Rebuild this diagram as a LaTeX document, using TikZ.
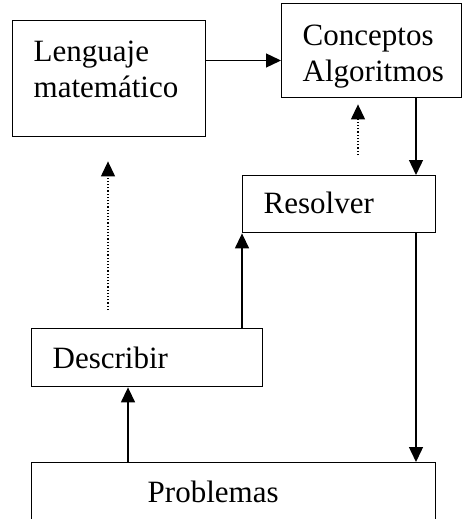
\documentclass[tikz,border=0pt]{standalone}
\usepackage{fontspec}
\setmainfont{Liberation Serif}
\usetikzlibrary{calc}
\usetikzlibrary{arrows.meta}

\tikzset{
    caja/.style={draw,line width=0.7pt,rectangle,anchor=north west,align=left,
        inner ysep=0pt,font=\fontsize{15.5}{17.75}\selectfont},
    flecha/.style={line width=0.7pt,-{Triangle[length=7.5pt,width=7pt]}},
    punteada/.style={line width=0.6pt,densely dotted,-{Triangle[length=7.5pt,width=7pt]}}
}

\begin{document}
\begin{tikzpicture}[x=0.5pt,y=-0.5pt]%
        \useasboundingbox (0,0) rectangle (462,519);
        % cajas
        \node[caja,inner xsep=10.5pt,text width=75.5pt,text height=20.5pt,text depth=37.5pt] (lenguaje) at (12,20) {Lenguaje\\matem\'atico};
        \node[caja,inner xsep=10.5pt,text width=69pt,text height=21pt,text depth=26pt] (conceptos) at (281,3) {Conceptos\\Algoritmos};
        \node[caja,inner xsep=10.5pt,text width=75.5pt,text height=19pt,text depth=9.5pt] (resolver) at (242,175) {Resolver};
        \node[caja,inner xsep=10.5pt,text width=94.5pt,text height=20pt,text depth=9pt] (describir) at (31,328) {Describir};
        \node[caja,inner xsep=58pt,text width=86pt,text height=20pt,text depth=19pt] (problemas) at (31,462) {Problemas};
        % puntos auxiliares
        \coordinate (derecha) at (416,0);
        \coordinate (centro) at (128,0);
        \coordinate (salida) at ($(lenguaje.north east)!0.345!(lenguaje.south east)$);
        \coordinate (puntoA) at (358,155);
        \coordinate (puntoB) at (108,310);
        % flechas
        \draw[flecha] (salida) -- (salida -| conceptos.west);
        \draw[flecha] (conceptos.south -| derecha) -- (resolver.north -| derecha);
        \draw[flecha] (resolver.south -| derecha) -- (problemas.north -| derecha);
        \draw[flecha] (describir.north -| resolver.south west) -- (resolver.south west);
        \draw[flecha] (problemas.north -| centro) -- (describir.south -| centro);
        \draw[punteada,shorten >=3pt] (puntoA) -- (conceptos.south -| puntoA);
        \draw[punteada,shorten >=12pt] (puntoB) -- (lenguaje.south -| puntoB);
    \end{tikzpicture}
\end{document}
